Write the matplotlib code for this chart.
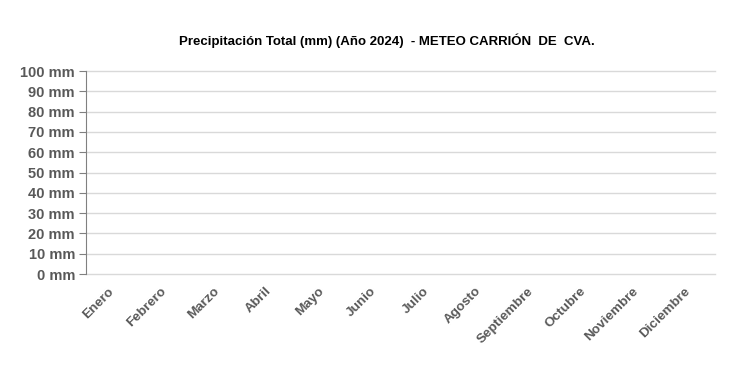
import matplotlib
matplotlib.use("Agg")
import matplotlib.pyplot as plt
import matplotlib.transforms as mtransforms
import numpy as np

matplotlib.rcParams['font.family'] = ['Liberation Sans', 'DejaVu Sans']

# data
meses = ["Enero", "Febrero", "Marzo", "Abril", "Mayo", "Junio", "Julio",
         "Agosto", "Septiembre", "Octubre", "Noviembre", "Diciembre"]
precipitacion = [0, 0, 0, 0, 0, 0, 0, 0, 0, 0, 0, 0]
yticks = [0, 10, 20, 30, 40, 50, 60, 70, 80, 90, 100]

fig = plt.figure(figsize=(7.46, 3.91), dpi=100)
ax = fig.add_axes([0.1153, 0.2992, 0.8427, 0.5192])

x = np.arange(len(meses))
ax.bar(x, precipitacion, width=0.6, color="#4472c4")

ax.set_xlim(-0.5, len(meses) - 0.5)
ax.set_ylim(0, 100)
ax.set_yticks(yticks)
ax.set_yticklabels([f"{v} mm" for v in yticks])
ax.set_xticks(x)
ax.set_xticklabels(meses, rotation=45, ha="right", rotation_mode="anchor")

ax.grid(axis="y", color="#d9d9d9", linewidth=1)
for gl in ax.get_ygridlines():
    gl.set_clip_on(False)
ax.set_axisbelow(True)
for s in ["top", "right", "bottom"]:
    ax.spines[s].set_visible(False)
ax.spines["left"].set_color("#808080")
ax.tick_params(axis="y", length=5, color="#808080", labelsize=10.5,
               labelcolor="#595959", pad=3)
ax.tick_params(axis="x", length=0, labelsize=9.7, labelcolor="#595959", pad=8)
offset = mtransforms.ScaledTranslation(-4 / 100, 0, fig.dpi_scale_trans)
for lbl in ax.get_xticklabels():
    lbl.set_transform(lbl.get_transform() + offset)
for lbl in ax.get_xticklabels() + ax.get_yticklabels():
    lbl.set_fontweight("bold")

fig.text(0.519, 0.895, "Precipitación Total (mm) (Año 2024)  - METEO CARRIÓN  DE  CVA.",
         ha="center", va="center", fontsize=9.5, fontweight="bold", color="black")

fig.savefig("out.png", dpi=100, facecolor="white")
